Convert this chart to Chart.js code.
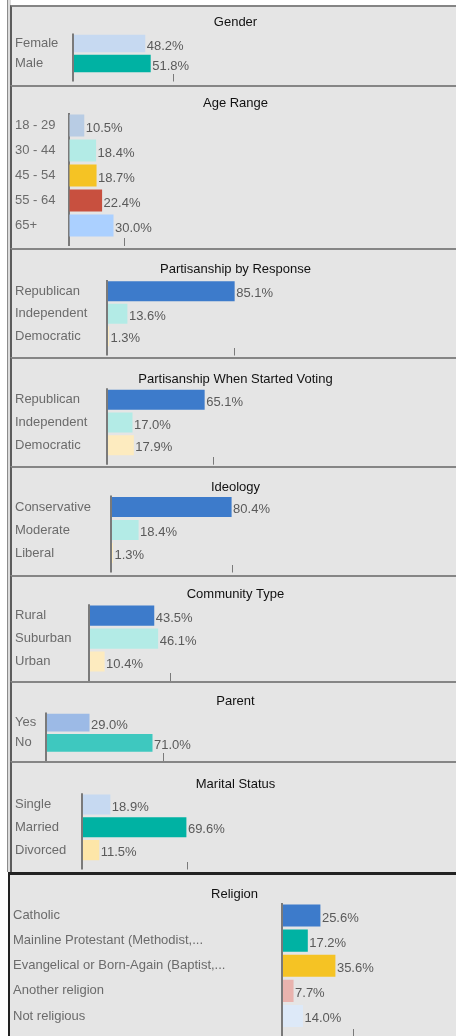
<!DOCTYPE html>
<html>
<head>
<meta charset="utf-8">
<script src="https://cdn.jsdelivr.net/npm/chart.js@4.4.0/dist/chart.umd.min.js"></script>
<style>
  body { margin: 0; width: 456px; height: 1036px; overflow: hidden; position: relative; background: #fff; }
  #rail { position: absolute; left: 7px; top: 0; width: 3px; height: 872px; border-left: 1px solid #8c8c8c; background: #dcdcdc; }
  .panel { position: absolute; left: 10px; width: 444px; background: #e5e5e5; border-left: 2px solid #5c5c5c; border-top: 2px solid #858585; }
  .panel.last { left: 8px; width: 446px; border-left: 2px solid #222; border-top: 3px solid #222; }
  .panel canvas { display: block; }
</style>
</head>
<body>
<div id="rail"></div>
<script>
const titles = ['Gender', 'Age Range', 'Partisanship by Response', 'Partisanship When Started Voting',
  'Ideology', 'Community Type', 'Parent', 'Marital Status', 'Religion'];

const genderLabels = ['Female', 'Male'];
const genderValues = [48.2, 51.8];
const ageLabels = ['18 - 29', '30 - 44', '45 - 54', '55 - 64', '65+'];
const ageValues = [10.5, 18.4, 18.7, 22.4, 30.0];
const partyNowLabels = ['Republican', 'Independent', 'Democratic'];
const partyNowValues = [85.1, 13.6, 1.3];
const partyStartLabels = ['Republican', 'Independent', 'Democratic'];
const partyStartValues = [65.1, 17.0, 17.9];
const ideologyLabels = ['Conservative', 'Moderate', 'Liberal'];
const ideologyValues = [80.4, 18.4, 1.3];
const communityLabels = ['Rural', 'Suburban', 'Urban'];
const communityValues = [43.5, 46.1, 10.4];
const parentLabels = ['Yes', 'No'];
const parentValues = [29.0, 71.0];
const maritalLabels = ['Single', 'Married', 'Divorced'];
const maritalValues = [18.9, 69.6, 11.5];
const religionLabels = ['Catholic', 'Mainline Protestant (Methodist,...', 'Evangelical or Born-Again (Baptist,...',
  'Another religion', 'Not religious'];
const religionValues = [25.6, 17.2, 35.6, 7.7, 14.0];

// the single tick mark each x axis shows under the bars
const tickValues = [67, 37, 85, 71, 81, 54, 78, 70, 47.5];

const blue = '#3d7bcb', teal = '#00b2a3', aqua = '#b3ebe6', cream = '#fdebbf';
const colors = [
  ['#c6d9f1', teal],
  ['#b8cce4', aqua, '#f5c324', '#c8503f', '#abd0ff'],
  [blue, aqua, cream],
  [blue, aqua, cream],
  [blue, aqua, cream],
  [blue, aqua, cream],
  ['#9cbae6', '#3ec8bf'],
  ['#c6d9f1', teal, '#fde6a8'],
  [blue, teal, '#f5c324', '#e9b3ae', '#dde9f8']
];

const sets = [
  [genderLabels, genderValues], [ageLabels, ageValues], [partyNowLabels, partyNowValues],
  [partyStartLabels, partyStartValues], [ideologyLabels, ideologyValues], [communityLabels, communityValues],
  [parentLabels, parentValues], [maritalLabels, maritalValues], [religionLabels, religionValues]
];

// page layout (y of separator line, canvas height, x of the zero line, bar band, title centre)
const panels = [
  { sep: 5,   h: 78,  zero: 73,   band: [33.5, 73.5],  titleY: 22.5 },
  { sep: 85,  h: 161, zero: 68.5, band: [113, 238],    titleY: 103.3 },
  { sep: 248, h: 107, zero: 107,  band: [280, 347.5],  titleY: 269 },
  { sep: 357, h: 107, zero: 107,  band: [388.3, 456.7], titleY: 379 },
  { sep: 466, h: 107, zero: 111,  band: [495.5, 564.5], titleY: 487.3 },
  { sep: 575, h: 104, zero: 89,   band: [604.2, 673.2], titleY: 594 },
  { sep: 681, h: 78,  zero: 46,   band: [712.5, 753.5], titleY: 701.7 },
  { sep: 761, h: 109, zero: 82,   band: [793.2, 861.5], titleY: 784 },
  { sep: 872, h: 170, zero: 282,  band: [903, 1028.5], titleY: 894 }
];

const FONT = '"Liberation Sans", Arial, sans-serif';
Chart.defaults.font.family = FONT;
const fontSize = 13;
const pxPerPoint = 1.5;
const tickLen = 8;
const padLeft = 3;
const lineH = fontSize * 1.2;

const valueLabels = {
  id: 'valueLabels',
  afterDatasetsDraw(chart) {
    const ctx = chart.ctx;
    const meta = chart.getDatasetMeta(0);
    const data = chart.data.datasets[0].data;
    ctx.save();
    ctx.font = fontSize + 'px ' + FONT;
    ctx.fillStyle = '#5a5a5a';
    ctx.textBaseline = 'middle';
    ctx.textAlign = 'left';
    meta.data.forEach((bar, i) => {
      ctx.fillText(data[i].toFixed(1) + '%', bar.x + 1.5, bar.y + 2.5);
    });
    ctx.restore();
  }
};

panels.forEach((p, i) => {
  const last = i === panels.length - 1;
  const border = last ? 3 : 2;
  const canvasLeft = last ? 10 : 12;
  const top = p.sep + border;
  const w = 456 - canvasLeft;
  const zeroX = p.zero - canvasLeft;
  const titleC = p.titleY - top;
  const bandTop = p.band[0] - top;
  const bandBottom = p.band[1] - top;

  const box = document.createElement('div');
  box.className = 'panel' + (last ? ' last' : '');
  box.style.top = p.sep + 'px';
  const canvas = document.createElement('canvas');
  canvas.width = w;
  canvas.height = p.h;
  box.appendChild(canvas);
  document.body.appendChild(box);

  const [labels, values] = sets[i];
  new Chart(canvas, {
    type: 'bar',
    data: {
      labels: labels,
      datasets: [{
        data: values,
        backgroundColor: colors[i],
        borderWidth: 0,
        barPercentage: 0.88,
        categoryPercentage: 1
      }]
    },
    options: {
      indexAxis: 'y',
      responsive: false,
      devicePixelRatio: 1,
      animation: false,
      layout: {
        padding: { left: padLeft, right: 0, top: 0, bottom: Math.max(0, p.h - bandBottom - tickLen) }
      },
      plugins: {
        legend: { display: false },
        tooltip: { enabled: false },
        title: {
          display: true,
          text: titles[i],
          color: '#111',
          font: { size: fontSize, weight: 'normal' },
          padding: { top: titleC - lineH / 2, bottom: bandTop - titleC - lineH / 2 }
        }
      },
      scales: {
        x: {
          type: 'linear',
          min: 0,
          max: (w - zeroX) / pxPerPoint,
          border: { display: false },
          ticks: { display: false },
          afterBuildTicks: s => { s.ticks = [{ value: 0 }, { value: tickValues[i] }]; },
          grid: {
            drawOnChartArea: true,
            drawTicks: true,
            tickLength: tickLen,
            color: c => (c.tick && c.tick.value === 0) ? '#7a7a7a' : 'rgba(0,0,0,0)',
            lineWidth: c => (c.tick && c.tick.value === 0) ? 2 : 1,
            tickColor: '#7a7a7a',
            tickWidth: c => (c.tick && c.tick.value === 0) ? 2 : 1
          }
        },
        y: {
          type: 'category',
          border: { display: false },
          grid: { display: false },
          ticks: { crossAlign: 'far', color: '#6b6b6b', font: { size: fontSize }, padding: 0, autoSkip: false },
          afterFit: s => { s.width = zeroX - padLeft; }
        }
      }
    },
    plugins: [valueLabels]
  });
});
</script>
</body>
</html>
